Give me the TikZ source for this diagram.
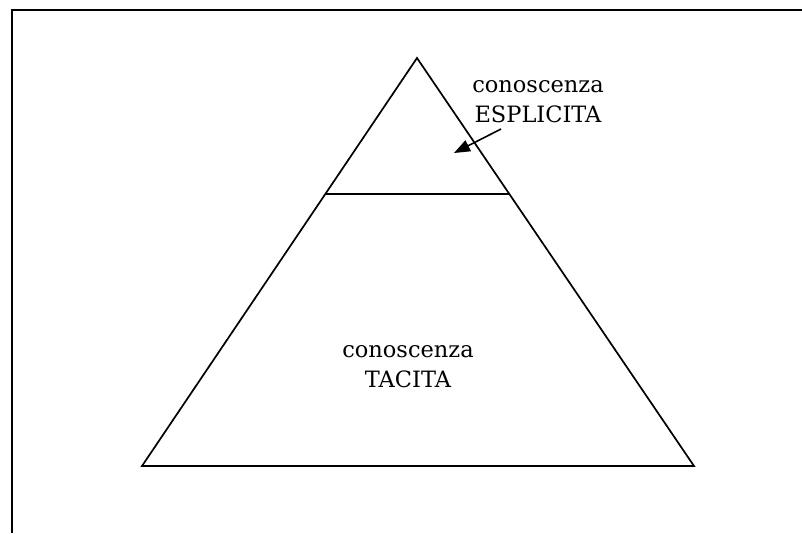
\documentclass[tikz,border=0pt]{standalone}
\usepackage{fontspec}
\setmainfont{DejaVu Serif}
\usetikzlibrary{arrows.meta,calc}
\begin{document}
\begin{tikzpicture}[x=1pt,y=-1pt,
  edge/.style={line width=1.7pt,line join=miter},
  lbl/.style={font=\fontsize{22.5}{30}\selectfont,align=center,inner sep=0pt}]
\useasboundingbox (0,0) rectangle (802,533);
\coordinate (bl) at (12,533);
\coordinate (tl) at (12,10);
\coordinate (tr) at (802,10);
\draw[line width=2pt] (bl) -- (tl) -- (tr);
\coordinate (apex) at (417,58);
\coordinate (L) at (142,466);
\coordinate (R) at (694,466);
\draw[edge] (apex) -- (L) -- (R) -- cycle;
\coordinate (ml) at ($(apex)!0.3333!(L)$);
\coordinate (mr) at ($(apex)!0.3333!(R)$);
\draw[edge] (ml) -- (mr);
\node[lbl] (esp) at (538,102) {conoscenza\\ESPLICITA};
\node[lbl] (tac) at (408,367) {conoscenza\\TACITA};
\coordinate (tail) at (501,129);
\coordinate (tip) at (454,153);
\draw[line width=1.6pt,-{Triangle[length=16pt,width=12pt]}] (tail) -- (tip);
\end{tikzpicture}
\end{document}
